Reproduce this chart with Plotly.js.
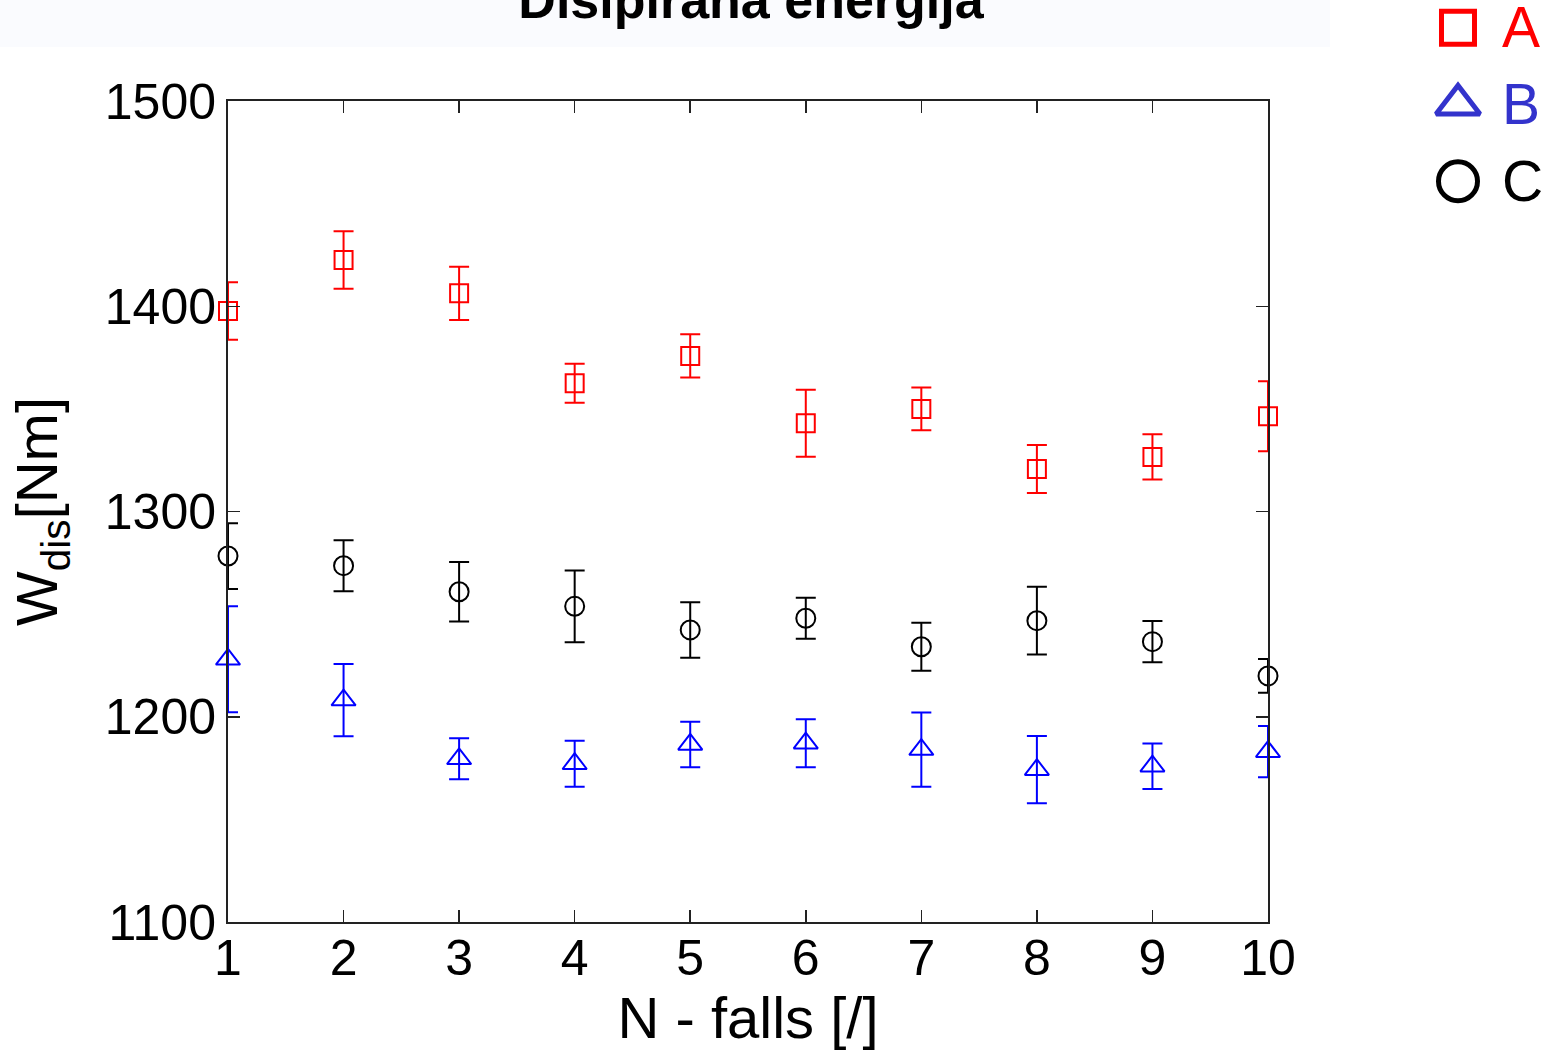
<!DOCTYPE html>
<html>
<head>
<meta charset="utf-8">
<script src="https://cdn.plot.ly/plotly-3.0.1.min.js"></script>
<style>
  html, body { margin: 0; padding: 0; background: #ffffff; }
  #chart { width: 1567px; height: 1050px; }
</style>
</head>
<body>
<div id="chart"></div>
<script>
// Number of falls
const falls = [1, 2, 3, 4, 5, 6, 7, 8, 9, 10];

// Dissipated energy W_dis [Nm], mean and spread per fall
const seriesA = [1397.7, 1422.5, 1406.3, 1362.5, 1375.8, 1343.0, 1350.0, 1320.7, 1326.6, 1346.4];
const errA    = [14.0, 14.0, 13.0, 9.5, 10.5, 16.3, 10.4, 11.7, 11.0, 17.0];

const seriesB = [1228.0, 1208.1, 1179.5, 1177.1, 1186.5, 1187.1, 1184.0, 1174.2, 1175.9, 1183.0];
const errB    = [25.8, 17.6, 10.0, 11.2, 11.1, 11.7, 18.1, 16.4, 11.1, 12.5];

const seriesC = [1278.3, 1273.6, 1260.9, 1253.8, 1242.3, 1248.0, 1234.1, 1246.8, 1236.6, 1219.9];
const errC    = [16.0, 12.4, 14.5, 17.5, 13.5, 10.0, 11.7, 16.5, 10.0, 8.2];

const seriesNames = ['A', 'B', 'C'];
const yTicks = [1100, 1200, 1300, 1400, 1500];
const xTicks = falls;

const titleText = 'Disipirana energija';
const xTitle = 'N - falls [/]';
const yTitle = 'W<sub>dis</sub>[Nm]';

// Styling per series
const styles = [
  { color: '#ff0000', legendColor: '#ff0000', symbol: 'square-open',      size: 18, legendSize: 33 },
  { color: '#0000ff', legendColor: '#3333cc', symbol: 'triangle-up-open', size: 21, legendSize: 38 },
  { color: '#000000', legendColor: '#000000', symbol: 'circle-open',      size: 19, legendSize: 39 }
];
const values = [seriesA, seriesB, seriesC];
const errors = [errA, errB, errC];

const W = 1567, H = 1050;
const plotL = 228, plotR = 1268, plotT = 101, plotB = 922;
const marginR = 10;
const areaW = W - plotL - marginR;
const areaH = plotB; // top margin is zero

const traces = [];
values.forEach((vals, i) => {
  const st = styles[i];
  // error bars, clipped to the axes box
  traces.push({
    type: 'scatter', mode: 'markers', x: falls, y: vals,
    xaxis: 'x', yaxis: 'y',
    marker: { size: 1, opacity: 0, color: st.color },
    error_y: { type: 'data', array: errors[i], visible: true, color: st.color, thickness: 2, width: 10 },
    showlegend: false, hoverinfo: 'skip', cliponaxis: true
  });
  // markers on top
  traces.push({
    type: 'scatter', mode: 'markers', x: falls, y: vals,
    xaxis: 'x', yaxis: 'y', name: seriesNames[i],
    marker: { symbol: st.symbol, size: st.size, color: st.color, line: { color: st.color, width: 2 } },
    showlegend: false, cliponaxis: false
  });
});

// Legend drawn in its own small subplot at the top right (x2 units are pixels)
const legendRows = seriesNames.map((_, i) => seriesNames.length - 1 - i);
const legendTextDrop = 0.07;
seriesNames.forEach((name, i) => {
  const st = styles[i];
  traces.push({
    type: 'scatter', mode: 'markers', x: [0], y: [legendRows[i]],
    xaxis: 'x2', yaxis: 'y2',
    marker: { symbol: st.symbol, size: st.legendSize, color: st.legendColor, line: { color: st.legendColor, width: 5 } },
    showlegend: false, hoverinfo: 'skip', cliponaxis: false
  });
  traces.push({
    type: 'scatter', mode: 'text', x: [44], y: [legendRows[i] - legendTextDrop],
    xaxis: 'x2', yaxis: 'y2',
    text: [name], textposition: 'middle right',
    textfont: { family: 'Liberation Sans, Arial, sans-serif', size: 57, color: st.legendColor },
    showlegend: false, hoverinfo: 'skip', cliponaxis: false
  });
});

const tickFont = { family: 'Liberation Sans, Arial, sans-serif', size: 50, color: '#000000' };
const titleFont = { family: 'Liberation Sans, Arial, sans-serif', size: 58, color: '#000000' };

const layout = {
  width: W, height: H,
  paper_bgcolor: '#ffffff', plot_bgcolor: '#ffffff',
  margin: { l: plotL, r: marginR, t: 0, b: H - plotB, pad: 0 },
  showlegend: false,
  title: {
    text: titleText,
    font: { family: 'Liberation Sans, Arial, sans-serif', size: 52, weight: 'bold', color: '#000000' },
    xref: 'container', x: 751 / W, xanchor: 'center',
    yref: 'container', y: 1, yanchor: 'middle'
  },
  xaxis: {
    domain: [0, (plotR - plotL) / areaW],
    range: [1, 10], tickvals: xTicks, ticktext: xTicks.map(String),
    ticks: 'inside', ticklen: 12, tickwidth: 1.5, tickcolor: '#222222',
    showline: true, linecolor: '#222222', linewidth: 2, mirror: 'ticks',
    showgrid: false, zeroline: false, tickfont: tickFont, ticklabelstandoff: -9,
    title: { text: xTitle, font: titleFont, standoff: 8 }
  },
  yaxis: {
    domain: [0, (plotB - plotT) / areaH],
    range: [1100, 1500], tickvals: yTicks, ticktext: yTicks.map(String),
    ticks: 'inside', ticklen: 12, tickwidth: 1.5, tickcolor: '#222222',
    showline: true, linecolor: '#222222', linewidth: 2, mirror: 'ticks',
    showgrid: false, zeroline: false, tickfont: tickFont,
    title: { text: yTitle, font: titleFont, standoff: 28 }
  },
  xaxis2: {
    domain: [(1420 - plotL) / areaW, 1], range: [-38, 99],
    anchor: 'y2', visible: false, fixedrange: true
  },
  yaxis2: {
    domain: [(plotB - 215) / areaH, 1], range: [-0.44, 2.36],
    anchor: 'x2', visible: false, fixedrange: true
  },
  shapes: [{
    type: 'rect', xref: 'paper', yref: 'paper', layer: 'below',
    x0: -plotL / areaW, x1: (1330 - plotL) / areaW,
    y0: (plotB - 47) / areaH, y1: 1,
    fillcolor: '#fafbfe', line: { width: 0 }
  }]
};

Plotly.newPlot('chart', traces, layout, { staticPlot: true, displayModeBar: false });
</script>
</body>
</html>
